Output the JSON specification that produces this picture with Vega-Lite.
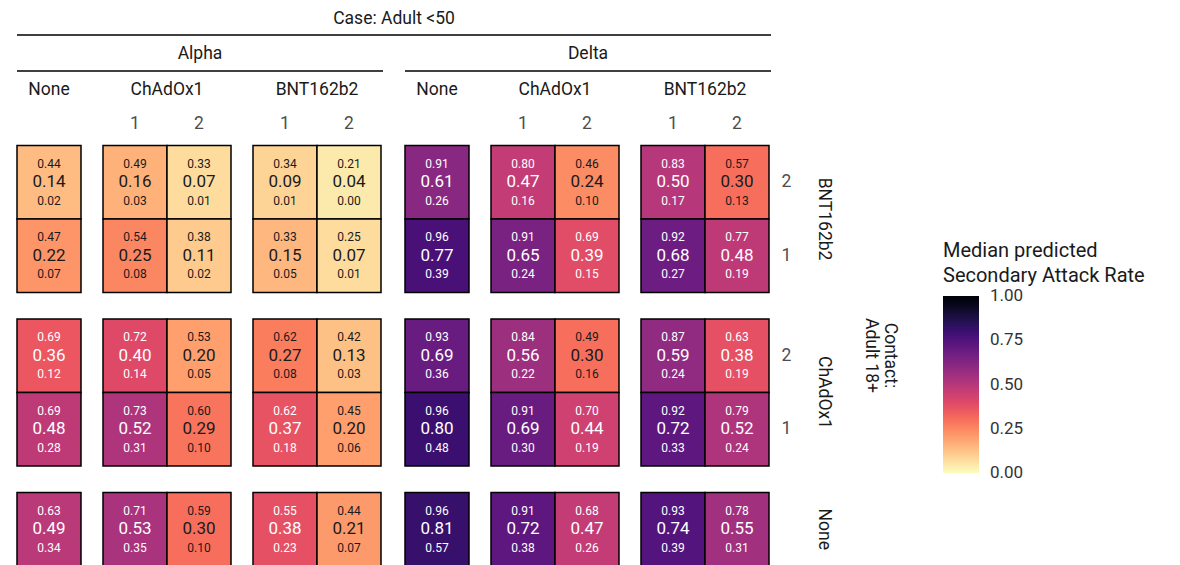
{
  "$schema": "https://vega.github.io/schema/vega-lite/v6.json",
  "padding": {"left": 16, "top": 0, "right": 0, "bottom": 0},
  "datasets": {
    "sar": [
      {"v": "Alpha", "kv": "BNT162b2", "kd": "2", "cv": "None", "cd": "None", "hi": 0.44, "m": 0.14, "lo": 0.02},
      {"v": "Alpha", "kv": "BNT162b2", "kd": "2", "cv": "ChAdOx1", "cd": "1", "hi": 0.49, "m": 0.16, "lo": 0.03},
      {"v": "Alpha", "kv": "BNT162b2", "kd": "2", "cv": "ChAdOx1", "cd": "2", "hi": 0.33, "m": 0.07, "lo": 0.01},
      {"v": "Alpha", "kv": "BNT162b2", "kd": "2", "cv": "BNT162b2", "cd": "1", "hi": 0.34, "m": 0.09, "lo": 0.01},
      {"v": "Alpha", "kv": "BNT162b2", "kd": "2", "cv": "BNT162b2", "cd": "2", "hi": 0.21, "m": 0.04, "lo": 0.00},
      {"v": "Alpha", "kv": "BNT162b2", "kd": "1", "cv": "None", "cd": "None", "hi": 0.47, "m": 0.22, "lo": 0.07},
      {"v": "Alpha", "kv": "BNT162b2", "kd": "1", "cv": "ChAdOx1", "cd": "1", "hi": 0.54, "m": 0.25, "lo": 0.08},
      {"v": "Alpha", "kv": "BNT162b2", "kd": "1", "cv": "ChAdOx1", "cd": "2", "hi": 0.38, "m": 0.11, "lo": 0.02},
      {"v": "Alpha", "kv": "BNT162b2", "kd": "1", "cv": "BNT162b2", "cd": "1", "hi": 0.33, "m": 0.15, "lo": 0.05},
      {"v": "Alpha", "kv": "BNT162b2", "kd": "1", "cv": "BNT162b2", "cd": "2", "hi": 0.25, "m": 0.07, "lo": 0.01},
      {"v": "Alpha", "kv": "ChAdOx1", "kd": "2", "cv": "None", "cd": "None", "hi": 0.69, "m": 0.36, "lo": 0.12},
      {"v": "Alpha", "kv": "ChAdOx1", "kd": "2", "cv": "ChAdOx1", "cd": "1", "hi": 0.72, "m": 0.40, "lo": 0.14},
      {"v": "Alpha", "kv": "ChAdOx1", "kd": "2", "cv": "ChAdOx1", "cd": "2", "hi": 0.53, "m": 0.20, "lo": 0.05},
      {"v": "Alpha", "kv": "ChAdOx1", "kd": "2", "cv": "BNT162b2", "cd": "1", "hi": 0.62, "m": 0.27, "lo": 0.08},
      {"v": "Alpha", "kv": "ChAdOx1", "kd": "2", "cv": "BNT162b2", "cd": "2", "hi": 0.42, "m": 0.13, "lo": 0.03},
      {"v": "Alpha", "kv": "ChAdOx1", "kd": "1", "cv": "None", "cd": "None", "hi": 0.69, "m": 0.48, "lo": 0.28},
      {"v": "Alpha", "kv": "ChAdOx1", "kd": "1", "cv": "ChAdOx1", "cd": "1", "hi": 0.73, "m": 0.52, "lo": 0.31},
      {"v": "Alpha", "kv": "ChAdOx1", "kd": "1", "cv": "ChAdOx1", "cd": "2", "hi": 0.60, "m": 0.29, "lo": 0.10},
      {"v": "Alpha", "kv": "ChAdOx1", "kd": "1", "cv": "BNT162b2", "cd": "1", "hi": 0.62, "m": 0.37, "lo": 0.18},
      {"v": "Alpha", "kv": "ChAdOx1", "kd": "1", "cv": "BNT162b2", "cd": "2", "hi": 0.45, "m": 0.20, "lo": 0.06},
      {"v": "Alpha", "kv": "None", "kd": "None", "cv": "None", "cd": "None", "hi": 0.63, "m": 0.49, "lo": 0.34},
      {"v": "Alpha", "kv": "None", "kd": "None", "cv": "ChAdOx1", "cd": "1", "hi": 0.71, "m": 0.53, "lo": 0.35},
      {"v": "Alpha", "kv": "None", "kd": "None", "cv": "ChAdOx1", "cd": "2", "hi": 0.59, "m": 0.30, "lo": 0.10},
      {"v": "Alpha", "kv": "None", "kd": "None", "cv": "BNT162b2", "cd": "1", "hi": 0.55, "m": 0.38, "lo": 0.23},
      {"v": "Alpha", "kv": "None", "kd": "None", "cv": "BNT162b2", "cd": "2", "hi": 0.44, "m": 0.21, "lo": 0.07},
      {"v": "Delta", "kv": "BNT162b2", "kd": "2", "cv": "None", "cd": "None", "hi": 0.91, "m": 0.61, "lo": 0.26},
      {"v": "Delta", "kv": "BNT162b2", "kd": "2", "cv": "ChAdOx1", "cd": "1", "hi": 0.80, "m": 0.47, "lo": 0.16},
      {"v": "Delta", "kv": "BNT162b2", "kd": "2", "cv": "ChAdOx1", "cd": "2", "hi": 0.46, "m": 0.24, "lo": 0.10},
      {"v": "Delta", "kv": "BNT162b2", "kd": "2", "cv": "BNT162b2", "cd": "1", "hi": 0.83, "m": 0.50, "lo": 0.17},
      {"v": "Delta", "kv": "BNT162b2", "kd": "2", "cv": "BNT162b2", "cd": "2", "hi": 0.57, "m": 0.30, "lo": 0.13},
      {"v": "Delta", "kv": "BNT162b2", "kd": "1", "cv": "None", "cd": "None", "hi": 0.96, "m": 0.77, "lo": 0.39},
      {"v": "Delta", "kv": "BNT162b2", "kd": "1", "cv": "ChAdOx1", "cd": "1", "hi": 0.91, "m": 0.65, "lo": 0.24},
      {"v": "Delta", "kv": "BNT162b2", "kd": "1", "cv": "ChAdOx1", "cd": "2", "hi": 0.69, "m": 0.39, "lo": 0.15},
      {"v": "Delta", "kv": "BNT162b2", "kd": "1", "cv": "BNT162b2", "cd": "1", "hi": 0.92, "m": 0.68, "lo": 0.27},
      {"v": "Delta", "kv": "BNT162b2", "kd": "1", "cv": "BNT162b2", "cd": "2", "hi": 0.77, "m": 0.48, "lo": 0.19},
      {"v": "Delta", "kv": "ChAdOx1", "kd": "2", "cv": "None", "cd": "None", "hi": 0.93, "m": 0.69, "lo": 0.36},
      {"v": "Delta", "kv": "ChAdOx1", "kd": "2", "cv": "ChAdOx1", "cd": "1", "hi": 0.84, "m": 0.56, "lo": 0.22},
      {"v": "Delta", "kv": "ChAdOx1", "kd": "2", "cv": "ChAdOx1", "cd": "2", "hi": 0.49, "m": 0.30, "lo": 0.16},
      {"v": "Delta", "kv": "ChAdOx1", "kd": "2", "cv": "BNT162b2", "cd": "1", "hi": 0.87, "m": 0.59, "lo": 0.24},
      {"v": "Delta", "kv": "ChAdOx1", "kd": "2", "cv": "BNT162b2", "cd": "2", "hi": 0.63, "m": 0.38, "lo": 0.19},
      {"v": "Delta", "kv": "ChAdOx1", "kd": "1", "cv": "None", "cd": "None", "hi": 0.96, "m": 0.80, "lo": 0.48},
      {"v": "Delta", "kv": "ChAdOx1", "kd": "1", "cv": "ChAdOx1", "cd": "1", "hi": 0.91, "m": 0.69, "lo": 0.30},
      {"v": "Delta", "kv": "ChAdOx1", "kd": "1", "cv": "ChAdOx1", "cd": "2", "hi": 0.70, "m": 0.44, "lo": 0.19},
      {"v": "Delta", "kv": "ChAdOx1", "kd": "1", "cv": "BNT162b2", "cd": "1", "hi": 0.92, "m": 0.72, "lo": 0.33},
      {"v": "Delta", "kv": "ChAdOx1", "kd": "1", "cv": "BNT162b2", "cd": "2", "hi": 0.79, "m": 0.52, "lo": 0.24},
      {"v": "Delta", "kv": "None", "kd": "None", "cv": "None", "cd": "None", "hi": 0.96, "m": 0.81, "lo": 0.57},
      {"v": "Delta", "kv": "None", "kd": "None", "cv": "ChAdOx1", "cd": "1", "hi": 0.91, "m": 0.72, "lo": 0.38},
      {"v": "Delta", "kv": "None", "kd": "None", "cv": "ChAdOx1", "cd": "2", "hi": 0.68, "m": 0.47, "lo": 0.26},
      {"v": "Delta", "kv": "None", "kd": "None", "cv": "BNT162b2", "cd": "1", "hi": 0.93, "m": 0.74, "lo": 0.39},
      {"v": "Delta", "kv": "None", "kd": "None", "cv": "BNT162b2", "cd": "2", "hi": 0.78, "m": 0.55, "lo": 0.31}
    ]
  },
  "spacing": 0,
  "vconcat": [
    {
      "width": 754,
      "height": 35,
      "data": {"values": [{"t": "Case: Adult <50"}]},
      "layer": [
        {"mark": {"type": "text", "fontSize": 17.5, "color": "#1a1a1a", "dy": 1}, "encoding": {"text": {"field": "t"}}},
        {"mark": {"type": "rule", "strokeWidth": 1.5, "color": "black"}, "encoding": {"y": {"datum": 0, "type": "quantitative", "scale": {"domain": [0, 1]}, "axis": null}}}
      ]
    },
    {
      "spacing": 20,
      "hconcat": [
        {
          "spacing": 8.5,
          "vconcat": [
            {
              "width": 366,
              "height": 35,
              "data": {"values": [{"t": "Alpha"}]},
              "layer": [
                {"mark": {"type": "text", "fontSize": 17.5, "color": "#1a1a1a"}, "encoding": {"text": {"field": "t"}}},
                {"mark": {"type": "rule", "strokeWidth": 1.5, "color": "black"}, "encoding": {"y": {"datum": 0, "type": "quantitative", "scale": {"domain": [0, 1]}, "axis": null}}}
              ]
            },
            {
              "spacing": 20,
              "hconcat": [
                {
                  "data": {"name": "sar"},
                  "transform": [{"filter": "datum.v == 'Alpha' && datum.cv == 'None'"}],
                  "facet": {
                    "column": {"field": "cv", "type": "nominal", "title": null},
                    "row": {"field": "kv", "type": "nominal", "title": null, "sort": ["BNT162b2", "ChAdOx1", "None"], "header": {"labels": false}}
                  },
                  "spacing": {"row": 24.5},
                  "resolve": {"scale": {"y": "independent"}},
                  "spec": {
                    "width": {"step": 64},
                    "height": {"step": 73.5},
                    "encoding": {
                      "x": {"field": "cd", "type": "nominal", "title": null, "axis": {"orient": "top", "labelPadding": 12, "labelOpacity": 0}},
                      "y": {"field": "kd", "type": "nominal", "title": null, "sort": "descending", "axis": null}
                    },
                    "layer": [
                      {"mark": {"type": "rect", "stroke": "black", "strokeWidth": 1.5}, "encoding": {"color": {"field": "m", "type": "quantitative", "title": ["Median predicted", "Secondary Attack Rate"], "scale": {"scheme": "magma", "reverse": true, "domain": [0, 1]}, "legend": {"values": [0, 0.25, 0.5, 0.75, 1], "format": ".2f", "encode": {"labels": {"update": {"baseline": {"value": "middle"}}}}}}}},
                      {"mark": {"type": "text", "fontSize": 12, "dy": -18.5}, "encoding": {"text": {"field": "hi", "type": "quantitative", "format": ".2f"}, "color": {"condition": {"test": "datum.m > 0.33", "value": "white"}, "value": "#1a1a1a"}}},
                      {"mark": {"type": "text", "fontSize": 17}, "encoding": {"text": {"field": "m", "type": "quantitative", "format": ".2f"}, "color": {"condition": {"test": "datum.m > 0.33", "value": "white"}, "value": "#1a1a1a"}}},
                      {"mark": {"type": "text", "fontSize": 12, "dy": 18.5}, "encoding": {"text": {"field": "lo", "type": "quantitative", "format": ".2f"}, "color": {"condition": {"test": "datum.m > 0.33", "value": "white"}, "value": "#1a1a1a"}}}
                    ]
                  }
                },
                {
                  "data": {"name": "sar"},
                  "transform": [{"filter": "datum.v == 'Alpha' && datum.cv == 'ChAdOx1'"}],
                  "facet": {
                    "column": {"field": "cv", "type": "nominal", "title": null},
                    "row": {"field": "kv", "type": "nominal", "title": null, "sort": ["BNT162b2", "ChAdOx1", "None"], "header": {"labels": false}}
                  },
                  "spacing": {"row": 24.5},
                  "resolve": {"scale": {"y": "independent"}},
                  "spec": {
                    "width": {"step": 64},
                    "height": {"step": 73.5},
                    "encoding": {
                      "x": {"field": "cd", "type": "nominal", "title": null, "axis": {"orient": "top", "labelPadding": 12}},
                      "y": {"field": "kd", "type": "nominal", "title": null, "sort": "descending", "axis": null}
                    },
                    "layer": [
                      {"mark": {"type": "rect", "stroke": "black", "strokeWidth": 1.5}, "encoding": {"color": {"field": "m", "type": "quantitative", "title": ["Median predicted", "Secondary Attack Rate"], "scale": {"scheme": "magma", "reverse": true, "domain": [0, 1]}, "legend": {"values": [0, 0.25, 0.5, 0.75, 1], "format": ".2f", "encode": {"labels": {"update": {"baseline": {"value": "middle"}}}}}}}},
                      {"mark": {"type": "text", "fontSize": 12, "dy": -18.5}, "encoding": {"text": {"field": "hi", "type": "quantitative", "format": ".2f"}, "color": {"condition": {"test": "datum.m > 0.33", "value": "white"}, "value": "#1a1a1a"}}},
                      {"mark": {"type": "text", "fontSize": 17}, "encoding": {"text": {"field": "m", "type": "quantitative", "format": ".2f"}, "color": {"condition": {"test": "datum.m > 0.33", "value": "white"}, "value": "#1a1a1a"}}},
                      {"mark": {"type": "text", "fontSize": 12, "dy": 18.5}, "encoding": {"text": {"field": "lo", "type": "quantitative", "format": ".2f"}, "color": {"condition": {"test": "datum.m > 0.33", "value": "white"}, "value": "#1a1a1a"}}}
                    ]
                  }
                },
                {
                  "data": {"name": "sar"},
                  "transform": [{"filter": "datum.v == 'Alpha' && datum.cv == 'BNT162b2'"}],
                  "facet": {
                    "column": {"field": "cv", "type": "nominal", "title": null},
                    "row": {"field": "kv", "type": "nominal", "title": null, "sort": ["BNT162b2", "ChAdOx1", "None"], "header": {"labels": false}}
                  },
                  "spacing": {"row": 24.5},
                  "resolve": {"scale": {"y": "independent"}},
                  "spec": {
                    "width": {"step": 64},
                    "height": {"step": 73.5},
                    "encoding": {
                      "x": {"field": "cd", "type": "nominal", "title": null, "axis": {"orient": "top", "labelPadding": 12}},
                      "y": {"field": "kd", "type": "nominal", "title": null, "sort": "descending", "axis": null}
                    },
                    "layer": [
                      {"mark": {"type": "rect", "stroke": "black", "strokeWidth": 1.5}, "encoding": {"color": {"field": "m", "type": "quantitative", "title": ["Median predicted", "Secondary Attack Rate"], "scale": {"scheme": "magma", "reverse": true, "domain": [0, 1]}, "legend": {"values": [0, 0.25, 0.5, 0.75, 1], "format": ".2f", "encode": {"labels": {"update": {"baseline": {"value": "middle"}}}}}}}},
                      {"mark": {"type": "text", "fontSize": 12, "dy": -18.5}, "encoding": {"text": {"field": "hi", "type": "quantitative", "format": ".2f"}, "color": {"condition": {"test": "datum.m > 0.33", "value": "white"}, "value": "#1a1a1a"}}},
                      {"mark": {"type": "text", "fontSize": 17}, "encoding": {"text": {"field": "m", "type": "quantitative", "format": ".2f"}, "color": {"condition": {"test": "datum.m > 0.33", "value": "white"}, "value": "#1a1a1a"}}},
                      {"mark": {"type": "text", "fontSize": 12, "dy": 18.5}, "encoding": {"text": {"field": "lo", "type": "quantitative", "format": ".2f"}, "color": {"condition": {"test": "datum.m > 0.33", "value": "white"}, "value": "#1a1a1a"}}}
                    ]
                  }
                }
              ]
            }
          ]
        },
        {
          "spacing": 8.5,
          "vconcat": [
            {
              "width": 366,
              "height": 35,
              "data": {"values": [{"t": "Delta"}]},
              "layer": [
                {"mark": {"type": "text", "fontSize": 17.5, "color": "#1a1a1a"}, "encoding": {"text": {"field": "t"}}},
                {"mark": {"type": "rule", "strokeWidth": 1.5, "color": "black"}, "encoding": {"y": {"datum": 0, "type": "quantitative", "scale": {"domain": [0, 1]}, "axis": null}}}
              ]
            },
            {
              "spacing": 20,
              "hconcat": [
                {
                  "data": {"name": "sar"},
                  "transform": [{"filter": "datum.v == 'Delta' && datum.cv == 'None'"}],
                  "facet": {
                    "column": {"field": "cv", "type": "nominal", "title": null},
                    "row": {"field": "kv", "type": "nominal", "title": null, "sort": ["BNT162b2", "ChAdOx1", "None"], "header": {"labels": false}}
                  },
                  "spacing": {"row": 24.5},
                  "resolve": {"scale": {"y": "independent"}},
                  "spec": {
                    "width": {"step": 64},
                    "height": {"step": 73.5},
                    "encoding": {
                      "x": {"field": "cd", "type": "nominal", "title": null, "axis": {"orient": "top", "labelPadding": 12, "labelOpacity": 0}},
                      "y": {"field": "kd", "type": "nominal", "title": null, "sort": "descending", "axis": null}
                    },
                    "layer": [
                      {"mark": {"type": "rect", "stroke": "black", "strokeWidth": 1.5}, "encoding": {"color": {"field": "m", "type": "quantitative", "title": ["Median predicted", "Secondary Attack Rate"], "scale": {"scheme": "magma", "reverse": true, "domain": [0, 1]}, "legend": {"values": [0, 0.25, 0.5, 0.75, 1], "format": ".2f", "encode": {"labels": {"update": {"baseline": {"value": "middle"}}}}}}}},
                      {"mark": {"type": "text", "fontSize": 12, "dy": -18.5}, "encoding": {"text": {"field": "hi", "type": "quantitative", "format": ".2f"}, "color": {"condition": {"test": "datum.m > 0.33", "value": "white"}, "value": "#1a1a1a"}}},
                      {"mark": {"type": "text", "fontSize": 17}, "encoding": {"text": {"field": "m", "type": "quantitative", "format": ".2f"}, "color": {"condition": {"test": "datum.m > 0.33", "value": "white"}, "value": "#1a1a1a"}}},
                      {"mark": {"type": "text", "fontSize": 12, "dy": 18.5}, "encoding": {"text": {"field": "lo", "type": "quantitative", "format": ".2f"}, "color": {"condition": {"test": "datum.m > 0.33", "value": "white"}, "value": "#1a1a1a"}}}
                    ]
                  }
                },
                {
                  "data": {"name": "sar"},
                  "transform": [{"filter": "datum.v == 'Delta' && datum.cv == 'ChAdOx1'"}],
                  "facet": {
                    "column": {"field": "cv", "type": "nominal", "title": null},
                    "row": {"field": "kv", "type": "nominal", "title": null, "sort": ["BNT162b2", "ChAdOx1", "None"], "header": {"labels": false}}
                  },
                  "spacing": {"row": 24.5},
                  "resolve": {"scale": {"y": "independent"}},
                  "spec": {
                    "width": {"step": 64},
                    "height": {"step": 73.5},
                    "encoding": {
                      "x": {"field": "cd", "type": "nominal", "title": null, "axis": {"orient": "top", "labelPadding": 12}},
                      "y": {"field": "kd", "type": "nominal", "title": null, "sort": "descending", "axis": null}
                    },
                    "layer": [
                      {"mark": {"type": "rect", "stroke": "black", "strokeWidth": 1.5}, "encoding": {"color": {"field": "m", "type": "quantitative", "title": ["Median predicted", "Secondary Attack Rate"], "scale": {"scheme": "magma", "reverse": true, "domain": [0, 1]}, "legend": {"values": [0, 0.25, 0.5, 0.75, 1], "format": ".2f", "encode": {"labels": {"update": {"baseline": {"value": "middle"}}}}}}}},
                      {"mark": {"type": "text", "fontSize": 12, "dy": -18.5}, "encoding": {"text": {"field": "hi", "type": "quantitative", "format": ".2f"}, "color": {"condition": {"test": "datum.m > 0.33", "value": "white"}, "value": "#1a1a1a"}}},
                      {"mark": {"type": "text", "fontSize": 17}, "encoding": {"text": {"field": "m", "type": "quantitative", "format": ".2f"}, "color": {"condition": {"test": "datum.m > 0.33", "value": "white"}, "value": "#1a1a1a"}}},
                      {"mark": {"type": "text", "fontSize": 12, "dy": 18.5}, "encoding": {"text": {"field": "lo", "type": "quantitative", "format": ".2f"}, "color": {"condition": {"test": "datum.m > 0.33", "value": "white"}, "value": "#1a1a1a"}}}
                    ]
                  }
                },
                {
                  "data": {"name": "sar"},
                  "transform": [{"filter": "datum.v == 'Delta' && datum.cv == 'BNT162b2'"}],
                  "facet": {
                    "column": {"field": "cv", "type": "nominal", "title": null},
                    "row": {"field": "kv", "type": "nominal", "title": ["Contact:", "Adult 18+"], "sort": ["BNT162b2", "ChAdOx1", "None"],
                      "header": {"labelOrient": "right", "labelAngle": 90, "labelPadding": 24, "titleOrient": "right", "titleAngle": 90, "titlePadding": 19}}
                  },
                  "spacing": {"row": 24.5},
                  "resolve": {"scale": {"y": "independent"}},
                  "spec": {
                    "width": {"step": 64},
                    "height": {"step": 73.5},
                    "encoding": {
                      "x": {"field": "cd", "type": "nominal", "title": null, "axis": {"orient": "top", "labelPadding": 12}},
                      "y": {"field": "kd", "type": "nominal", "title": null, "sort": "descending", "axis": {"orient": "right", "labelPadding": 12, "labelExpr": "datum.value == 'None' ? '' : datum.label"}}
                    },
                    "layer": [
                      {"mark": {"type": "rect", "stroke": "black", "strokeWidth": 1.5}, "encoding": {"color": {"field": "m", "type": "quantitative", "title": ["Median predicted", "Secondary Attack Rate"], "scale": {"scheme": "magma", "reverse": true, "domain": [0, 1]}, "legend": {"values": [0, 0.25, 0.5, 0.75, 1], "format": ".2f", "encode": {"labels": {"update": {"baseline": {"value": "middle"}}}}}}}},
                      {"mark": {"type": "text", "fontSize": 12, "dy": -18.5}, "encoding": {"text": {"field": "hi", "type": "quantitative", "format": ".2f"}, "color": {"condition": {"test": "datum.m > 0.33", "value": "white"}, "value": "#1a1a1a"}}},
                      {"mark": {"type": "text", "fontSize": 17}, "encoding": {"text": {"field": "m", "type": "quantitative", "format": ".2f"}, "color": {"condition": {"test": "datum.m > 0.33", "value": "white"}, "value": "#1a1a1a"}}},
                      {"mark": {"type": "text", "fontSize": 12, "dy": 18.5}, "encoding": {"text": {"field": "lo", "type": "quantitative", "format": ".2f"}, "color": {"condition": {"test": "datum.m > 0.33", "value": "white"}, "value": "#1a1a1a"}}}
                    ]
                  }
                }
              ]
            }
          ]
        }
      ]
    }
  ],
  "config": {
    "font": "Roboto",
    "view": {"stroke": null},
    "text": {"font": "Roboto"},
    "axis": {"domain": false, "ticks": false, "grid": false, "labelFont": "Roboto", "labelFontSize": 17.5, "labelColor": "#4d4d4d", "labelAngle": 0},
    "header": {"labelFont": "Roboto", "labelFontSize": 17.5, "labelColor": "#1a1a1a", "labelPadding": 16, "titleFont": "Roboto", "titleFontSize": 17.5, "titleColor": "#1a1a1a", "titleFontWeight": "normal"},
    "legend": {
      "orient": "none", "legendX": 926, "legendY": 241, "padding": 0,
      "titleFont": "Roboto", "titleFontSize": 20, "titleFontWeight": "normal", "titleColor": "#1a1a1a", "titleLineHeight": 25, "titlePadding": 10, "titleLimit": 300,
      "labelFont": "Roboto", "labelFontSize": 17, "labelColor": "#333333", "labelOffset": 11, "gradientLabelOffset": 11,
      "gradientLength": 177, "gradientThickness": 36, "gradientStrokeWidth": 0
    }
  }
}
